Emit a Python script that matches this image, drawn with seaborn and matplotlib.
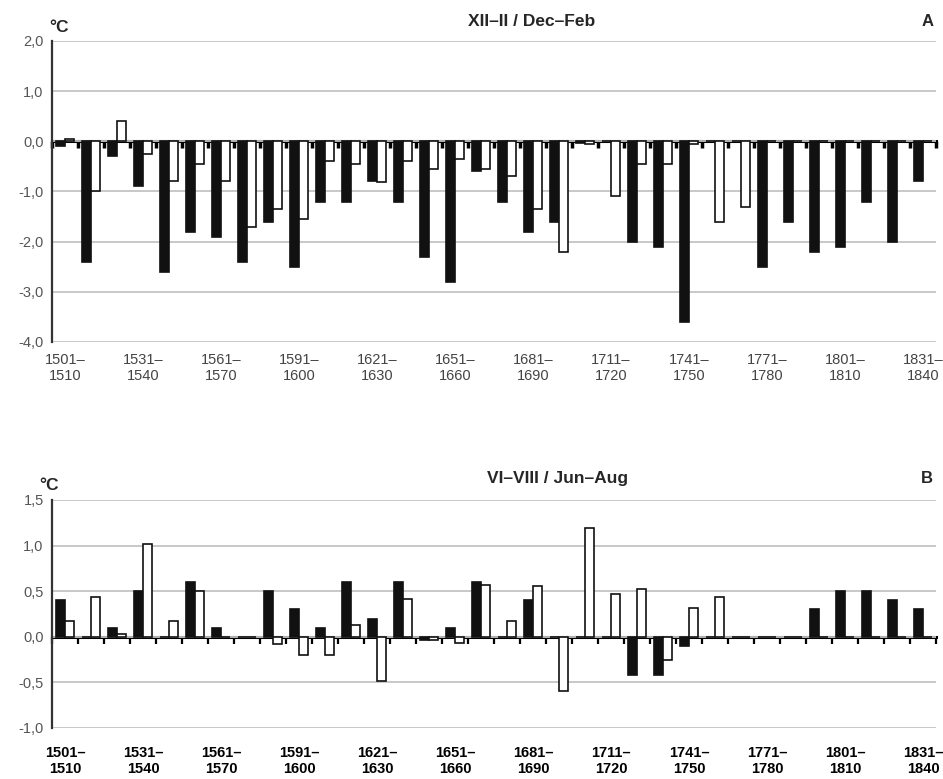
import numpy as np
import pandas as pd
import matplotlib
matplotlib.use('Agg')
import matplotlib.pyplot as plt
import seaborn as sns

# decades 1501-1510 ... 1831-1840
decades = ['{0}–{1}'.format(y, y + 9) for y in range(1501, 1841, 10)]

# panel A, winter (XII-II), two series per decade
winter_black = [-0.1, -2.4, -0.3, -0.9, -2.6, -1.8, -1.9, -2.4, -1.6, -2.5,
                -1.2, -1.2, -0.8, -1.2, -2.3, -2.8, -0.6, -1.2, -1.8, -1.6,
                -0.03, 0.0, -2.0, -2.1, -3.6, 0.0, 0.0, -2.5, -1.6, -2.2,
                -2.1, -1.2, -2.0, -0.8]
winter_white = [0.05, -1.0, 0.4, -0.25, -0.8, -0.45, -0.8, -1.7, -1.35, -1.55,
                -0.4, -0.45, -0.82, -0.4, -0.55, -0.35, -0.55, -0.7, -1.35, -2.2,
                -0.06, -1.1, -0.45, -0.45, -0.05, -1.6, -1.3, 0.0, 0.0, 0.0,
                0.0, 0.0, 0.0, 0.0]

# panel B, summer (VI-VIII)
summer_black = [0.4, 0.0, 0.1, 0.5, 0.0, 0.6, 0.1, 0.0, 0.5, 0.3,
                0.1, 0.6, 0.2, 0.6, -0.03, 0.1, 0.6, 0.0, 0.4, 0.0,
                0.0, 0.0, -0.42, -0.42, -0.1, 0.0, 0.0, 0.0, 0.0, 0.3,
                0.5, 0.5, 0.4, 0.3]
summer_white = [0.17, 0.44, 0.03, 1.02, 0.17, 0.5, 0.0, 0.0, -0.08, -0.2,
                -0.2, 0.13, -0.48, 0.41, -0.03, -0.07, 0.57, 0.17, 0.56, -0.6,
                1.19, 0.47, 0.52, -0.25, 0.31, 0.44, 0.0, 0.0, 0.0, 0.0,
                0.0, 0.0, 0.0, 0.0]

winter_yticks = [-4.0, -3.0, -2.0, -1.0, 0.0, 1.0, 2.0]
summer_yticks = [-1.0, -0.5, 0.0, 0.5, 1.0, 1.5]


def to_long(black, white):
    return pd.DataFrame({
        'decade': decades * 2,
        'value': list(black) + list(white),
        'series': ['black'] * len(black) + ['white'] * len(white),
    })


def draw_panel(ax, data, yticks, bold_labels, tick_w):
    sns.barplot(data=data, x='decade', y='value', hue='series',
                order=decades, hue_order=['black', 'white'],
                palette={'black': '#111111', 'white': 'white'},
                edgecolor='#111111', linewidth=1.2, width=0.66,
                errorbar=None, legend=False, ax=ax)
    ax.set_xlim(-0.5, len(decades) - 0.5)
    ax.set_ylim(yticks[0], yticks[-1])
    ax.set_xlabel('')
    ax.set_ylabel('')

    ax.set_yticks(yticks, labels=['{0:.1f}'.format(v).replace('.', ',')
                                  for v in yticks])
    ax.yaxis.grid(True, color='#c4c4c4', lw=1.3)
    ax.set_axisbelow(True)
    ax.tick_params(axis='y', length=4, width=1.3, color='#333333',
                   labelsize=10.5, labelcolor='#555555', pad=2)

    # decade labels every third category
    idx = list(range(0, len(decades), 3))
    labels = [decades[i].replace('–', '–\n') for i in idx]
    ax.set_xticks(idx, labels=labels)
    ax.tick_params(axis='x', length=0, labelsize=10.5,
                   pad=13 if bold_labels else 8,
                   labelcolor='black' if bold_labels else '#444444')
    if bold_labels:
        for t in ax.get_xticklabels():
            t.set_fontweight('bold')

    for s in ['top', 'right', 'bottom']:
        ax.spines[s].set_visible(False)
    ax.spines['left'].set_color('#333333')
    ax.spines['left'].set_linewidth(1.6)

    # zero line with ticks between decades
    zero_pos = -yticks[0] / (yticks[-1] - yticks[0])
    sec = ax.secondary_xaxis(zero_pos)
    sec.set_alignment('bottom')
    sec.set_xticks(np.arange(-0.5, len(decades), 1.0), labels=[])
    sec.tick_params(direction='out', length=5, width=tick_w, color='black')
    sec.spines['bottom'].set_linewidth(2.2)
    sec.spines['bottom'].set_color('black')


sns.set_style('white')
plt.rcParams['font.family'] = ['Liberation Sans', 'DejaVu Sans']

fig = plt.figure(figsize=(9.43, 7.79), dpi=100)
ax_a = fig.add_axes([0.0551, 0.561, 0.9375, 0.3864])
ax_b = fig.add_axes([0.0551, 0.0655, 0.9375, 0.2927])

draw_panel(ax_a, to_long(winter_black, winter_white), winter_yticks, False, 2.5)
draw_panel(ax_b, to_long(summer_black, summer_white), summer_yticks, True, 1.6)

fig.text(0.564, 0.972, 'XII–II / Dec–Feb', ha='center', va='center',
         fontsize=12.5, fontweight='bold')
fig.text(0.984, 0.972, 'A', ha='center', va='center',
         fontsize=12, fontweight='bold')
fig.text(0.0626, 0.965, '°C', ha='center', va='center',
         fontsize=12.5, fontweight='bold')

fig.text(0.591, 0.386, 'VI–VIII / Jun–Aug', ha='center', va='center',
         fontsize=12.5, fontweight='bold')
fig.text(0.983, 0.386, 'B', ha='center', va='center',
         fontsize=12, fontweight='bold')
fig.text(0.052, 0.377, '°C', ha='center', va='center',
         fontsize=12.5, fontweight='bold')

fig.savefig('out.png', dpi=100, facecolor='white')
